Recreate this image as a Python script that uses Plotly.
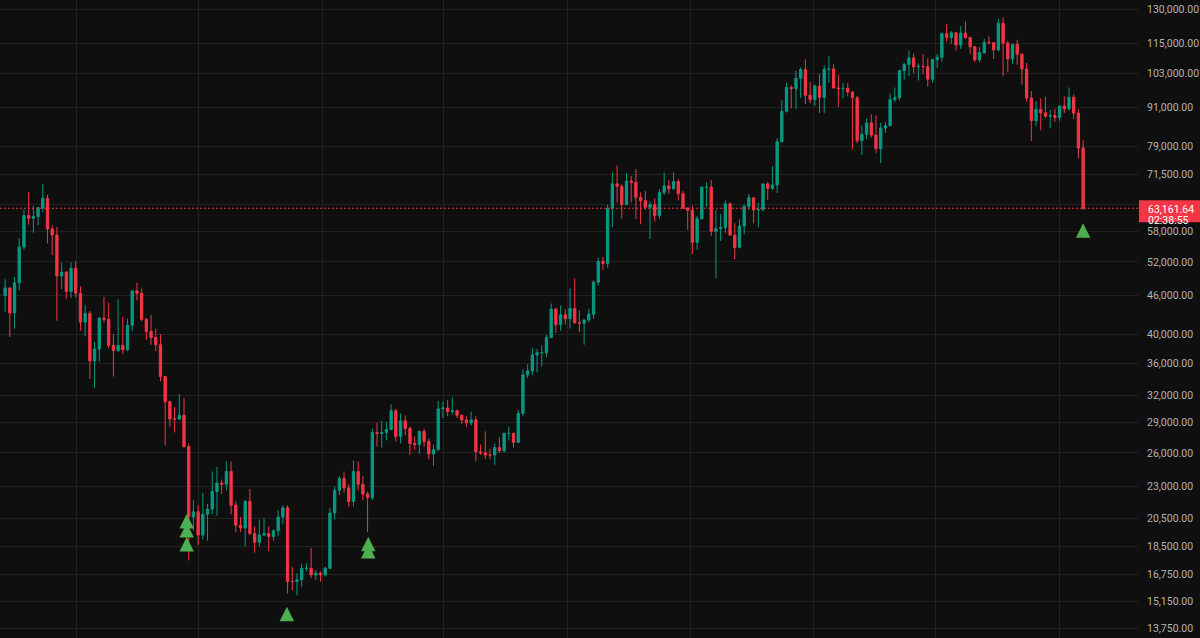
import math
import pandas as pd
import plotly.graph_objects as go

# ---------------- data (weekly candles) ----------------
first_week = "2021-09-13"

open_prices = [
    46000, 47300, 43200, 48200, 54900, 61500, 60900, 61300, 63300, 65500, 58600, 57300, 49400, 50100, 46700, 50800,
    46400, 41800, 43100, 36300, 37900, 42400, 42200, 38400, 37700, 38400, 37800, 41300, 46800, 46400, 42200, 40400,
    39500, 38500, 34300, 31300, 29400, 29400, 29800, 26600, 20600, 21000, 19300, 20800, 21200, 22600, 23300, 23200,
    24300, 21500, 20000, 19800, 21800, 19400, 18800, 19300, 19400, 19200, 19600, 20600, 21300, 16300, 16300, 16400,
    17100, 17100, 16700, 16800,
    16700, 17100, 20900, 22700, 23700, 22900, 21800, 24300, 23200, 22400, 22100, 28000, 27900, 28000, 28300, 30300,
    27600, 29200, 28400, 26900, 26800, 28100, 27100, 25900, 26300, 30500, 30600, 30200, 30300, 29800, 29300, 29000,
    29300, 26100, 26000, 25800, 25800, 26500, 26200, 27900, 27900, 27000, 30000, 34500, 35000, 37100, 37400, 37400,
    39500, 43800, 41400, 42900,
    42300, 43900, 41700, 41600, 42100, 43000, 48300, 52100, 51700, 63100, 69000, 68400, 64000, 69700, 69400, 65700,
    64900, 63400, 64000, 61500, 66900, 68500, 67800, 69600, 66600, 63200, 62700, 55800, 60800, 68200, 68200, 58100,
    58700, 58900, 64200, 57300, 54800, 59200, 63600, 65600, 62800, 62900, 69000, 67900, 68700, 80400, 89800, 97900,
    97500, 101200, 104500, 95200, 93700,
    98400, 94500, 104600, 104700, 97700, 97500, 97600, 96300, 94300, 80700, 82600, 86100, 82400, 78400, 84500, 85200,
    93700, 94300, 104100, 106400, 109000, 105600, 105700, 105600, 100900, 108400, 109200, 119100, 117300, 119400,
    114200, 119300, 117400, 113500, 108200, 111100, 115300, 115200, 112200, 123500, 115000, 108600, 114500, 110500,
    104700, 94200, 86800, 90400, 89300, 88200, 88400, 87800,
    91500, 90600, 94500, 89200, 78600,
]

high_prices = [
    48800, 47400, 49200, 56600, 62900, 67000, 63700, 63400, 69000, 66300, 59400, 59000, 51900, 50300, 51900, 52100,
    47600, 44500, 43500, 38900, 42600, 45800, 44800, 40000, 45400, 42600, 42300, 46900, 48200, 47200, 42400, 42900,
    40800, 40000, 34400, 31400, 30700, 32200, 31700, 26900, 21900, 21500, 22500, 21600, 24300, 24700, 23600, 25200,
    25200, 21800, 20600, 21900, 22800, 19900, 20400, 20500, 19900, 19700, 21100, 21500, 21500, 17200, 16800, 17400,
    17400, 18400, 17000, 16900,
    17200, 21300, 23000, 23900, 24300, 23200, 25300, 25200, 23900, 22600, 28400, 29000, 29200, 29100, 31000, 30500,
    30000, 29800, 28600, 27600, 28200, 28400, 27400, 26800, 31400, 31300, 31500, 31800, 30400, 29900, 29700, 30200,
    29700, 26800, 28100, 26400, 26900, 27500, 28000, 28600, 28000, 30400, 35200, 35900, 38000, 37900, 38400, 39900,
    44700, 44000, 44400, 43800,
    47200, 49000, 43600, 42200, 43900, 48600, 52800, 52900, 64000, 72000, 73800, 68900, 71700, 71000, 72800, 66900,
    67200, 64700, 65500, 67700, 71900, 70000, 72000, 70200, 67200, 63400, 63800, 61400, 68400, 69400, 70000, 62700,
    61800, 65000, 64500, 59800, 60700, 64100, 66500, 65600, 64500, 69000, 69500, 73600, 81500, 93500, 99600, 98700,
    104100, 105300, 108400, 99900, 99000,
    102700, 106000, 109600, 106500, 102500, 99500, 99500, 96500, 95000, 85300, 87500, 88800, 88500, 86100, 86400, 95800,
    97900, 104400, 107100, 112000, 110700, 106800, 110500, 108900, 108500, 110600, 119500, 123200, 120200, 119800,
    122300, 124500, 117600, 113600, 113400, 116800, 117900, 115400, 125700, 126200, 116000, 114000, 116400, 110800,
    107000, 96600, 93100, 94100, 94600, 90300, 90600, 91700,
    94800, 97900, 95500, 90500, 80800,
]

low_prices = [
    43400, 39600, 40800, 46900, 54400, 59500, 57800, 59400, 62300, 55600, 53300, 42000, 47100, 45500, 45600, 45700,
    40500, 39700, 34000, 32900, 36200, 41700, 38000, 34300, 37500, 37200, 37600, 40500, 45200, 41900, 39200, 38500,
    37600, 33700, 26700, 28600, 28000, 29300, 26500, 17600, 19600, 18600, 19000, 18900, 20800, 20700, 22400, 22700,
    20800, 19500, 19500, 18500, 19300, 18100, 18500, 19200, 18200, 18900, 19200, 20100, 15600, 15800, 15500, 16000,
    16900, 16500, 16400, 16300,
    16600, 17100, 20400, 22300, 22500, 21400, 21400, 22700, 21900, 19500, 21900, 26600, 26500, 27200, 28200, 27100,
    26900, 27700, 25800, 26300, 25900, 26600, 25400, 24800, 26200, 29500, 29700, 29900, 29500, 28900, 28600, 28700,
    25200, 25800, 25400, 25400, 24900, 26000, 26000, 27200, 26500, 27000, 29700, 34100, 34500, 34800, 35600, 36800,
    39500, 40200, 40500, 41400,
    40800, 41500, 40300, 38500, 41800, 42300, 47700, 50500, 50900, 59000, 64500, 60800, 64000, 64500, 60700, 59600,
    62800, 56500, 60200, 60800, 66300, 66600, 67600, 65000, 63000, 58400, 53500, 54300, 60600, 63500, 57100, 49000,
    56100, 57800, 57200, 52500, 54600, 57500, 62700, 59800, 58900, 62400, 65100, 67500, 66800, 80200, 89400, 90800,
    90500, 94200, 92200, 92500, 91500,
    89300, 89300, 99500, 97700, 91200, 94100, 94800, 78200, 80000, 76600, 81200, 81600, 77100, 74400, 83100, 85100,
    92800, 93400, 100700, 102000, 103100, 100400, 102700, 98200, 99600, 105100, 107500, 115700, 114700, 112000,
    112600, 116800, 110600, 107300, 107300, 110600, 114400, 108600, 111600, 102000, 103500, 106700, 106300, 98900,
    93000, 80600, 85200, 83800, 87600, 84400, 86400, 86800,
    89300, 90000, 87300, 75700, 62800,
]

close_prices = [
    47300, 43200, 48200, 54900, 61500, 60900, 61300, 63300, 65500, 58600, 57300, 49400, 50100, 46700, 50800, 46400,
    41800, 43100, 36300, 37900, 42400, 42200, 38400, 37700, 38400, 37800, 41300, 46800, 46400, 42200, 40400, 39500,
    38500, 34300, 31300, 29400, 29400, 29800, 26600, 20600, 21000, 19300, 20800, 21200, 22600, 23300, 23200, 24300,
    21500, 20000, 19800, 21800, 19400, 18800, 19300, 19400, 19200, 19600, 20600, 21300, 16300, 16300, 16400, 17100,
    17100, 16700, 16800, 16700,
    17100, 20900, 22700, 23700, 22900, 21800, 24300, 23200, 22400, 22100, 28000, 27900, 28000, 28300, 30300, 27600,
    29200, 28400, 26900, 26800, 28100, 27100, 25900, 26300, 30500, 30600, 30200, 30300, 29800, 29300, 29000, 29300,
    26100, 26000, 25800, 25800, 26500, 26200, 27900, 27900, 27000, 30000, 34500, 35000, 37100, 37400, 37400, 39500,
    43800, 41400, 42900, 42300,
    43900, 41700, 41600, 42100, 43000, 48300, 52100, 51700, 63100, 69000, 68400, 64000, 69700, 69400, 65700, 64900,
    63400, 64000, 61500, 66900, 68500, 67800, 69600, 66600, 63200, 62700, 55800, 60800, 68200, 68200, 58100, 58700,
    58900, 64200, 57300, 54800, 59200, 63600, 65600, 62800, 62900, 69000, 67900, 68700, 80400, 89800, 97900, 97500,
    101200, 104500, 95200, 93700, 98400,
    94500, 104600, 104700, 97700, 97500, 97600, 96300, 94300, 80700, 82600, 86100, 82400, 78400, 84500, 85200, 93700,
    94300, 104100, 106400, 109000, 105600, 105700, 105600, 100900, 108400, 109200, 119100, 117300, 119400, 114200,
    119300, 117400, 113500, 108200, 111100, 115300, 115200, 112200, 123500, 115000, 108600, 114500, 110500, 104700,
    94200, 86800, 90400, 89300, 88200, 88400, 87800, 91500,
    90600, 94500, 89200, 78600, 63161.64,
]

price_ticks = [13750, 15150, 16750, 18500, 20500, 23000, 26000, 29000, 32000, 36000, 40000,
               46000, 52000, 58000, 64000, 71500, 79000, 91000, 103000, 115000, 130000]
hidden_tick = 64000  # covered by the last-price label in the reference

signal_dates = ["2022-06-13", "2022-06-13", "2022-06-13", "2022-11-09",
                "2023-03-10", "2023-03-10", "2026-02-05"]
signal_prices = [20830, 20160, 19160, 14880, 19180, 18680, 59800]

last_price_text = "63,161.64"
countdown_text = "02:38:55"

# ---------------- style ----------------
UP = "#089981"
DOWN = "#F23645"
BG = "#0F0F0F"
GRID = "#222222"
TXT = "#B4B4B4"
SIGNAL = "#4CAF50"
FONT = "Roboto, 'Noto Sans', sans-serif"

Y_RANGE = [4.12322, 5.12866]
HEIGHT = 638
PX_PER_DECADE = HEIGHT / (Y_RANGE[1] - Y_RANGE[0])

week_start = pd.date_range(first_week, periods=len(close_prices), freq="7D")
week_mid = week_start + pd.Timedelta(hours=84)
sig_x = pd.to_datetime(signal_dates) + pd.Timedelta(hours=12)
last_close = close_prices[-1]

fig = go.Figure()
fig.add_trace(go.Candlestick(
    x=week_mid, open=open_prices, high=high_prices, low=low_prices, close=close_prices,
    increasing=dict(line=dict(color=UP, width=1), fillcolor=UP),
    decreasing=dict(line=dict(color=DOWN, width=1), fillcolor=DOWN),
    whiskerwidth=0, showlegend=False, hoverinfo="skip",
))
fig.add_trace(go.Scatter(
    x=sig_x, y=signal_prices, mode="markers",
    marker=dict(symbol="arrow-up", size=14.5, color=SIGNAL, line=dict(width=0)),
    showlegend=False, hoverinfo="skip",
))

# last price dotted line
fig.add_shape(type="line", xref="paper", x0=0, x1=1, yref="y", y0=last_close, y1=last_close,
              line=dict(color=DOWN, width=1, dash="2px,2px"), layer="above")
# last price label box (pixel offsets converted through the log scale)
box_lo = last_close * 10 ** (-14 / PX_PER_DECADE)
box_hi = last_close * 10 ** (8 / PX_PER_DECADE)
fig.add_shape(type="rect", xref="paper", x0=1.0008, x1=1.06, yref="y", y0=box_lo, y1=box_hi,
              fillcolor=DOWN, line=dict(width=0), layer="above")
fig.add_annotation(xref="paper", x=1, xanchor="left", xshift=9, yref="y", y=math.log10(last_close),
                   yanchor="middle", yshift=-1, text=last_price_text, showarrow=False, borderpad=0,
                   font=dict(color="#FFFFFF", size=10.5, family=FONT))
fig.add_annotation(xref="paper", x=1, xanchor="left", xshift=9, yref="y", y=math.log10(last_close),
                   yanchor="middle", yshift=-12, text=countdown_text, showarrow=False, borderpad=0,
                   font=dict(color="#FFFFFF", size=10.5, family=FONT))

fig.update_layout(
    width=1200, height=HEIGHT,
    margin=dict(l=0, r=62, t=0, b=0),
    paper_bgcolor=BG, plot_bgcolor=BG,
    showlegend=False,
    font=dict(family=FONT, size=10.5, color=TXT),
    xaxis=dict(
        type="date", range=["2021-09-08 21:00", "2026-04-28 03:00"],
        showticklabels=False, showgrid=True, gridcolor=GRID, gridwidth=1,
        tick0="2022-01-01", dtick="M6", ticks="", zeroline=False, showline=False,
        rangeslider=dict(visible=False), fixedrange=True,
    ),
    yaxis=dict(
        type="log", side="right", range=Y_RANGE,
        tickvals=price_ticks,
        ticktext=["" if v == hidden_tick else f"{v:,.2f}" for v in price_ticks],
        showgrid=True, gridcolor=GRID, gridwidth=1, ticks="", ticklabelstandoff=8,
        zeroline=False, showline=False, fixedrange=True,
        tickfont=dict(family=FONT, size=10.5, color=TXT),
    ),
)

fig.write_html("out.html", config={"displayModeBar": False},
               post_script="document.body.style.margin='0';document.body.style.background='#0F0F0F';")
